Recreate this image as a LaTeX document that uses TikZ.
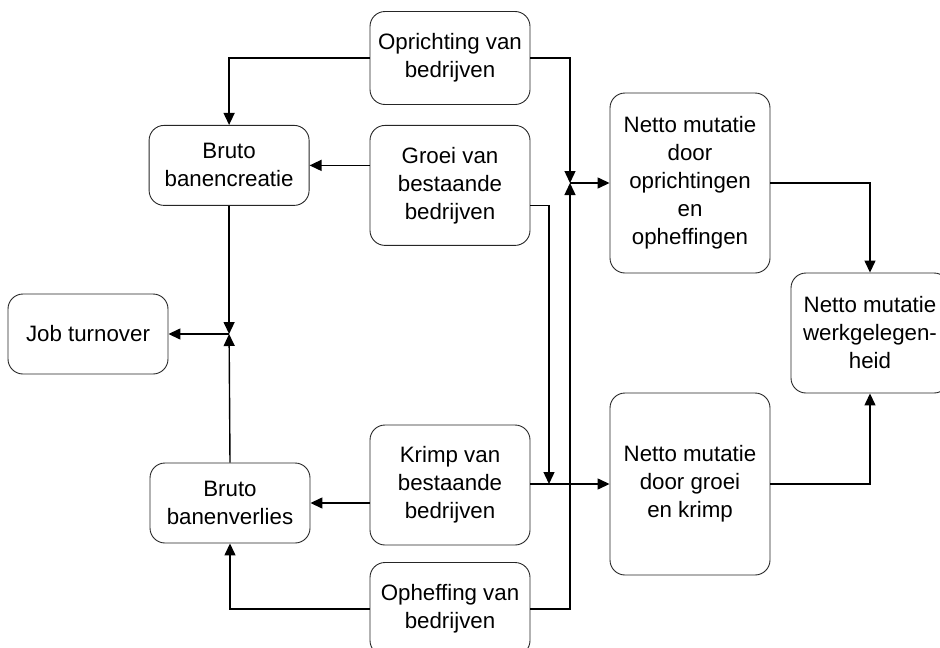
\documentclass[tikz,border=0pt]{standalone}
\usepackage{fontspec}
\setmainfont{Liberation Sans}
\usetikzlibrary{positioning}
\usetikzlibrary{arrows.meta}

\begin{document}
\begin{tikzpicture}
[x=1pt, y=-1pt,
% The box style is used for every rounded block
box/.style={rectangle, rounded corners=15pt, draw=black!85, line width=0.9pt, minimum width=160pt, align=center, inner sep=2pt, font=\fontsize{22.3}{28}\selectfont},
% The flow style is used for the connecting arrows
flow/.style={draw, line width=1.4pt, -{Triangle[length=12pt, width=11pt]}}
]
\useasboundingbox (0,0) rectangle (940,648);

% Draw blocks
\node [box, minimum height=93pt] (oprichting) at (450,58) {Oprichting van\\bedrijven};
\node [box, minimum height=120pt, below=20pt of oprichting] (groei) {Groei van\\bestaande\\bedrijven};
\node [box, minimum height=80pt, anchor=north east] (creatie) at ([xshift=-60pt]groei.north west) {Bruto\\banencreatie};
\node [box, minimum height=80pt] (turnover) at (88,334) {Job turnover};
\node [box, minimum height=120pt] (krimp) at (450,485) {Krimp van\\bestaande\\bedrijven};
\node [box, minimum height=80pt] (verlies) at (230,503) {Bruto\\banenverlies};
\node [box, minimum height=93pt] (opheffing) at (450,609) {Opheffing van\\bedrijven};
\node [box, minimum height=180pt] (nettoOO) at (690,183) {Netto mutatie\\door\\oprichtingen\\en\\opheffingen};
\node [box, minimum height=182pt] (nettoGK) at (690,484) {Netto mutatie\\door groei\\en krimp};
\node [box, minimum height=120pt, minimum width=158pt] (werk) at (870,333) {Netto mutatie\\werkgelegen-\\heid};

% Junctions
\coordinate (jOO) at (570,183);
\coordinate (jGK) at (549,484);
\coordinate (jTO) at (turnover.east -| creatie.south);

% Draw arrows
\draw [flow] (oprichting.west) -| (creatie.north);
\draw [flow] (groei.west |- creatie.east) -- (creatie.east);
\draw [flow] (krimp.west |- verlies.east) -- (verlies.east);
\draw [flow] (opheffing.west) -| (verlies.south);
\draw [flow] (creatie.south) -- (jTO);
\draw [flow] (verlies.north) -- (jTO);
\draw [flow] (jTO) -- (turnover.east);
\draw [flow] (oprichting.east) -| (jOO);
\draw [flow] (opheffing.east) -| (jOO);
\draw [flow] (jOO) -- (jOO -| nettoOO.west);
\draw [flow] ([yshift=-20pt]groei.east) -| (jGK);
\draw [flow] (krimp.east |- jGK) -- (jGK -| nettoGK.west);
\draw [flow] (nettoOO.east) -| (werk.north);
\draw [flow] (nettoGK.east) -| (werk.south);
\end{tikzpicture}
\end{document}
